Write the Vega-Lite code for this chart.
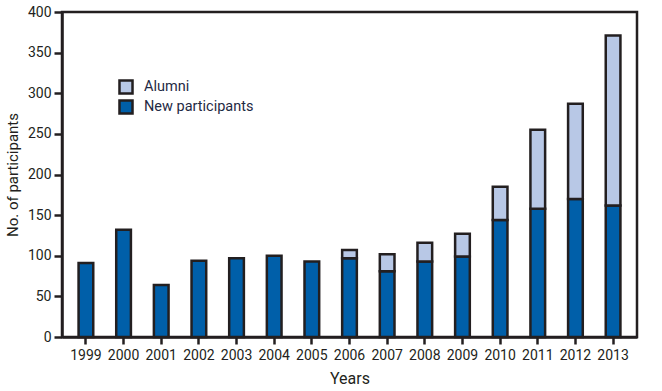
{
  "$schema": "https://vega.github.io/schema/vega-lite/v6.json",
  "autosize": "none",
  "width": 575,
  "height": 325,
  "padding": {"left": 62, "top": 12, "right": 25, "bottom": 54},
  "background": "white",
  "config": {
    "font": "Roboto",
    "view": {"stroke": "#231f20", "strokeWidth": 2.5},
    "axis": {
      "domainColor": "#231f20",
      "domainWidth": 2.5,
      "tickColor": "#231f20",
      "tickWidth": 2.5,
      "labelColor": "#231f20",
      "titleColor": "#231f20",
      "grid": false,
      "labelFont": "Roboto",
      "titleFont": "Roboto",
      "titleFontWeight": "normal"
    },
    "legend": {"labelFont": "Roboto"}
  },
  "data": {
    "values": [
      {"year": "1999", "type": "New participants", "count": 91},
      {"year": "2000", "type": "New participants", "count": 132},
      {"year": "2001", "type": "New participants", "count": 64},
      {"year": "2002", "type": "New participants", "count": 94},
      {"year": "2003", "type": "New participants", "count": 97},
      {"year": "2004", "type": "New participants", "count": 100},
      {"year": "2005", "type": "New participants", "count": 93},
      {"year": "2006", "type": "New participants", "count": 97},
      {"year": "2006", "type": "Alumni", "count": 10},
      {"year": "2007", "type": "New participants", "count": 81},
      {"year": "2007", "type": "Alumni", "count": 21},
      {"year": "2008", "type": "New participants", "count": 93},
      {"year": "2008", "type": "Alumni", "count": 23},
      {"year": "2009", "type": "New participants", "count": 99},
      {"year": "2009", "type": "Alumni", "count": 28},
      {"year": "2010", "type": "New participants", "count": 144},
      {"year": "2010", "type": "Alumni", "count": 41},
      {"year": "2011", "type": "New participants", "count": 158},
      {"year": "2011", "type": "Alumni", "count": 97},
      {"year": "2012", "type": "New participants", "count": 170},
      {"year": "2012", "type": "Alumni", "count": 117},
      {"year": "2013", "type": "New participants", "count": 162},
      {"year": "2013", "type": "Alumni", "count": 209}
    ]
  },
  "mark": {"type": "bar", "stroke": "#231f20", "strokeWidth": 2.5, "strokeJoin": "miter"},
  "encoding": {
    "x": {
      "field": "year",
      "type": "ordinal",
      "title": "Years",
      "scale": {"paddingInner": 0.61, "paddingOuter": 0.44},
      "axis": {
        "labelAngle": 0,
        "labelFontSize": 14,
        "titleFontSize": 16,
        "tickSize": 7,
        "labelPadding": 4,
        "titlePadding": 8
      }
    },
    "y": {
      "field": "count",
      "type": "quantitative",
      "title": "No. of participants",
      "stack": "zero",
      "scale": {"domain": [0, 400], "nice": false},
      "axis": {
        "values": [0, 50, 100, 150, 200, 250, 300, 350, 400],
        "labelFontSize": 14,
        "titleFontSize": 15,
        "tickSize": 8,
        "labelPadding": 3,
        "titlePadding": 7
      }
    },
    "color": {
      "field": "type",
      "type": "nominal",
      "scale": {"domain": ["Alumni", "New participants"], "range": ["#b8c8e6", "#005fa9"]},
      "legend": {
        "title": null,
        "orient": "none",
        "legendX": 56,
        "legendY": 67,
        "symbolType": "square",
        "symbolSize": 170,
        "symbolStrokeColor": "#231f20",
        "symbolStrokeWidth": 2.5,
        "symbolOpacity": 1,
        "labelFontSize": 14.5,
        "labelColor": "#1f2a44",
        "labelOffset": 10,
        "rowPadding": -6
      }
    },
    "order": {"field": "type", "sort": "descending"}
  }
}
